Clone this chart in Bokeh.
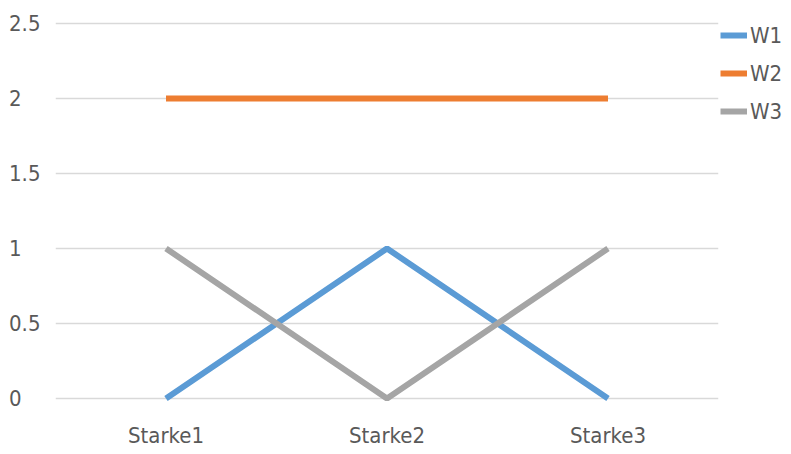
from bokeh.plotting import figure
from bokeh.models import FactorRange, Range1d, FixedTicker, Legend, LegendItem
from bokeh.embed import file_html
from bokeh.resources import INLINE

# Chart data
categories = ["Starke1", "Starke2", "Starke3"]
w1 = [0, 1, 0]
w2 = [2, 2, 2]
w3 = [1, 0, 1]
y_ticks = [0, 0.5, 1, 1.5, 2, 2.5]
y_tick_labels = ["0", "0.5", "1", "1.5", "2", "2.5"]

FONT = "'Liberation Sans Narrow', 'DejaVu Sans Condensed', 'Open Sans', sans-serif"
TEXT_COLOR = "#595959"
FIG_SP = "\u2007"   # figure space (digit width)
PUNCT_SP = "\u2008"  # punctuation space (period width)

p = figure(
    frame_width=663, frame_height=381,
    x_range=FactorRange(*categories),
    y_range=Range1d(-0.02, 2.52),
    output_backend="svg", toolbar_location=None,
    min_border_left=55, min_border_right=73,
    min_border_top=20, min_border_bottom=53,
)
p.outline_line_color = None
p.background_fill_color = "white"
p.border_fill_color = "white"

# Horizontal gridlines only
p.xgrid.grid_line_color = None
p.ygrid.ticker = FixedTicker(ticks=y_ticks)
p.ygrid.grid_line_color = "#D9D9D9"
p.ygrid.grid_line_width = 1.5

for ax in (p.xaxis, p.yaxis):
    ax.axis_line_color = None
    ax.major_tick_line_color = None
    ax.minor_tick_line_color = None
    ax.major_tick_out = 0
    ax.major_tick_in = 0
    ax.minor_tick_out = 0
    ax.major_label_text_font = FONT
    ax.major_label_text_font_size = "22px"
    ax.major_label_text_color = TEXT_COLOR

p.xaxis.major_label_standoff = 21

# Value axis: labels padded on the right so they line up on their left edge
p.yaxis.ticker = FixedTicker(ticks=y_ticks)
p.yaxis.major_label_standoff = 15
overrides = {}
for v, t in zip(y_ticks, y_tick_labels):
    if "." not in t:
        t = t + PUNCT_SP + FIG_SP
    overrides[v] = t
p.yaxis.major_label_overrides = overrides

r1 = p.line(categories, w1, line_color="#5B9BD5", line_width=6)
r2 = p.line(categories, w2, line_color="#ED7D31", line_width=6)
r3 = p.line(categories, w3, line_color="#A5A5A5", line_width=6)

legend = Legend(
    items=[LegendItem(label="W1", renderers=[r1]),
           LegendItem(label="W2", renderers=[r2]),
           LegendItem(label="W3", renderers=[r3])],
    location="top_left",
    orientation="vertical",
    glyph_width=27, glyph_height=26, label_height=26,
    spacing=12, padding=0, margin=2, label_standoff=3,
    label_text_font=FONT, label_text_font_size="22px",
    label_text_color=TEXT_COLOR,
    border_line_color=None, background_fill_alpha=0,
)
p.add_layout(legend, "right")

open("out.html", "w").write(file_html(p, INLINE))
